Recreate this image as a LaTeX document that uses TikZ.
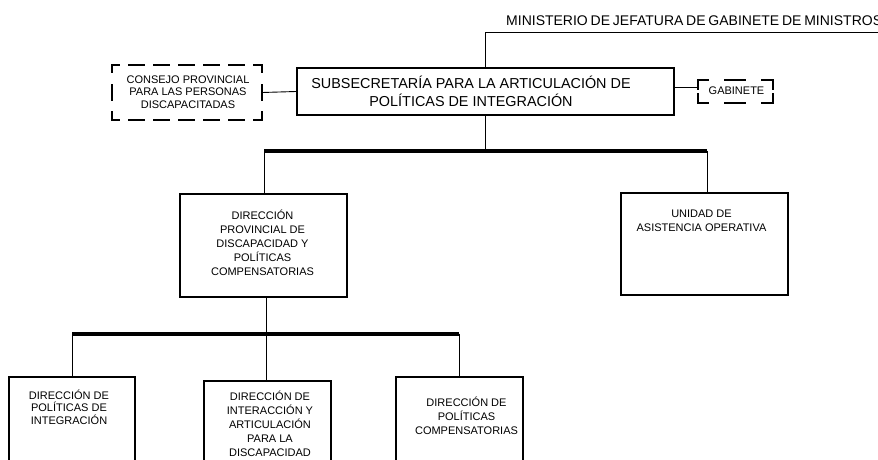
\documentclass[tikz,border=0pt]{standalone}
\usepackage{fontspec}
\setmainfont{Liberation Sans}
\begin{document}
\begin{tikzpicture}[x=1pt,y=-1pt,
  box/.style={draw, line width=1.5pt, inner sep=0pt},
  mainbox/.style={draw, line width=2pt, inner sep=0pt},
  conn/.style={line width=0.9pt},
  bar/.style={line width=4pt},
  dside/.style={line width=1.8pt, line cap=rect, dash pattern=on 15pt off 10pt, dash phase=7.5pt},
  dvside/.style={line width=1.8pt, line cap=rect, dash pattern=on 15pt off 12.5pt, dash phase=7.5pt},
  gside/.style={line width=1.8pt, line cap=rect, dash pattern=on 20pt off 17pt, dash phase=10pt},
  gvside/.style={line width=1.8pt, line cap=rect, dash pattern=on 18pt off 5pt, dash phase=9pt},
  small/.style={font=\fontsize{11}{14}\selectfont, align=center, inner sep=0pt},
  tight/.style={font=\fontsize{11}{12.5}\selectfont, align=center, inner sep=0pt},
  big/.style={font=\fontsize{14.4}{18}\selectfont, align=center, inner sep=0pt}]
\useasboundingbox (0,0) rectangle (878,460);
\clip (0,0) rectangle (878,460);

% top level
\node[big, font=\fontsize{14}{18}\selectfont, anchor=base west] (min) at (506,26) {{\spaceskip=0.2em MINISTERIO DE JEFATURA DE GABINETE DE MINISTROS}};
\coordinate (minend) at (890,32);

\node[mainbox, minimum width=377pt, minimum height=47pt] (main) at (485.5,91.5) {};
\node[big] (maintxt) at (471,91.5) {SUBSECRETARÍA PARA LA ARTICULACIÓN DE\\POLÍTICAS DE INTEGRACIÓN};

% consejo (dashed)
\node[minimum width=150pt, minimum height=55pt, inner sep=0pt] (cons) at (187,92.5) {};
\node[tight] (constxt) at (188,92) {CONSEJO PROVINCIAL\\PARA LAS PERSONAS\\DISCAPACITADAS};
\draw[dside] (cons.north west) -- (cons.north east);
\draw[dside] (cons.south west) -- (cons.south east);
\draw[dvside] (cons.north west) -- (cons.south west);
\draw[dvside] (cons.north east) -- (cons.south east);

% gabinete (dashed)
\node[minimum width=74pt, minimum height=23pt, inner sep=0pt] (gab) at (735.5,91.5) {};
\node[small] (gabtxt) at (736.5,91) {GABINETE};
\draw[gside] (gab.north west) -- (gab.north east);
\draw[gside] (gab.south west) -- (gab.south east);
\draw[gvside] (gab.north west) -- (gab.south west);
\draw[gvside] (gab.north east) -- (gab.south east);

% second level
\node[box, minimum width=167pt, minimum height=103pt] (dp) at (263.5,245.5) {};
\node[small] (dptxt) at (262.5,242.5) {DIRECCIÓN\\PROVINCIAL DE\\DISCAPACIDAD Y\\POLÍTICAS\\COMPENSATORIAS};

\node[box, minimum width=167pt, minimum height=102pt] (uao) at (704.5,244) {};
\node[small] (uaotxt) at (701.5,221) {UNIDAD DE\\ASISTENCIA OPERATIVA};

% third level
\node[box, minimum width=126pt, minimum height=110pt] (b1) at (72,432) {};
\node[tight] (b1txt) at (69,407) {DIRECCIÓN DE\\POLÍTICAS DE\\INTEGRACIÓN};

\node[box, minimum width=127pt, minimum height=110pt] (b2) at (267.5,436) {};
\node[small] (b2txt) at (270,424) {DIRECCIÓN DE\\INTERACCIÓN Y\\ARTICULACIÓN\\PARA LA\\DISCAPACIDAD};

\node[box, minimum width=127pt, minimum height=110pt] (b3) at (459.5,432) {};
\node[small] (b3txt) at (466.5,416) {DIRECCIÓN DE\\POLÍTICAS\\COMPENSATORIAS};

% bars
\coordinate (barL) at (264,151);
\coordinate (barR) at (707,151);
\coordinate (lbL) at (72,333.5);
\coordinate (lbM) at (266,333.5);
\coordinate (lbR) at (459,333.5);

% connectors
\draw[conn] (main.north) |- (minend);
\draw[conn] (cons.east) -- (main.west);
\draw[conn] ([yshift=4.5pt]gab.west) -- ([yshift=4.5pt]gab.west -| main.east);
\draw[conn] (main.south) -- (main.south |- barL);
\draw[bar] (barL) -- (barR);
\draw[conn] (barL) -- (barL |- dp.north);
\draw[conn] (barR) -- (barR |- uao.north);
\draw[conn] (lbM |- dp.south) -- (lbM);
\draw[bar] (lbL) -- (lbR);
\draw[conn] (lbL) -- (lbL |- b1.north);
\draw[conn] (lbM) -- (lbM |- b2.north);
\draw[conn] (lbR) -- (lbR |- b3.north);
\end{tikzpicture}
\end{document}
